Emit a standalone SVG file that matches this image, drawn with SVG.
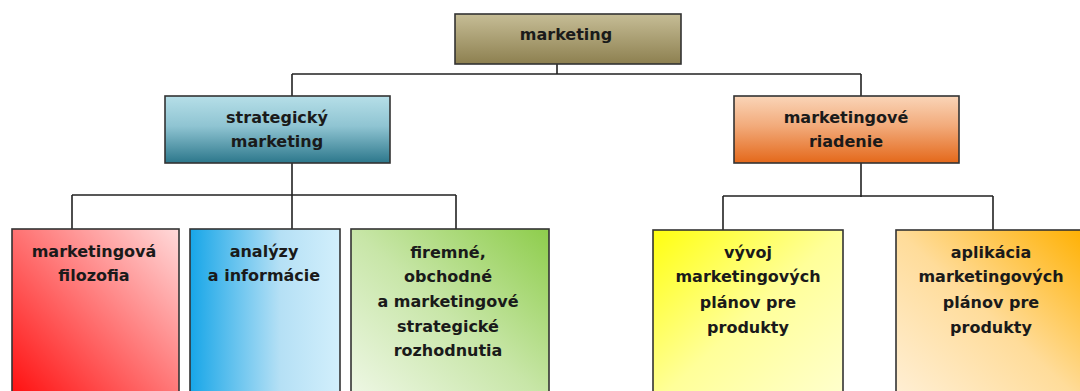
<svg xmlns="http://www.w3.org/2000/svg" width="1080" height="391" viewBox="0 0 1080 391">
<style>
.box{stroke:#333;stroke-width:1.6}
.t{font-family:"DejaVu Sans",Verdana,sans-serif;font-weight:bold;font-size:16px;fill:#1a1a1a;text-anchor:middle}
.c{fill:none;stroke:#222;stroke-width:1.6}
</style>
<defs>
<linearGradient id="gTop" x1="0" y1="0" x2="0" y2="1"><stop offset="0" stop-color="#c6bd96"/><stop offset="1" stop-color="#8d8050"/></linearGradient>
<linearGradient id="gStrat" x1="0" y1="0" x2="0" y2="1"><stop offset="0" stop-color="#b6dfe8"/><stop offset="0.45" stop-color="#8fc4d2"/><stop offset="1" stop-color="#2c778b"/></linearGradient>
<linearGradient id="gRiad" x1="0" y1="0" x2="0" y2="1"><stop offset="0" stop-color="#fad5b8"/><stop offset="0.45" stop-color="#f2aa7a"/><stop offset="1" stop-color="#e4681a"/></linearGradient>
<linearGradient id="gRed" x1="0" y1="1" x2="1" y2="0"><stop offset="0" stop-color="#ff0a0a"/><stop offset="1" stop-color="#ffdada"/></linearGradient>
<linearGradient id="gBlue" x1="0" y1="0" x2="1" y2="0"><stop offset="0" stop-color="#17a6e8"/><stop offset="0.6" stop-color="#b5e0f5"/><stop offset="1" stop-color="#d2effc"/></linearGradient>
<linearGradient id="gGreen" x1="0" y1="1" x2="1" y2="0"><stop offset="0" stop-color="#f0f8e8"/><stop offset="0.5" stop-color="#c8e6a8"/><stop offset="1" stop-color="#8ecd4c"/></linearGradient>
<linearGradient id="gYel" x1="0" y1="0" x2="1" y2="1"><stop offset="0" stop-color="#ffff10"/><stop offset="0.5" stop-color="#ffff99"/><stop offset="1" stop-color="#ffffd0"/></linearGradient>
<linearGradient id="gOr" x1="1" y1="0" x2="0" y2="1"><stop offset="0" stop-color="#ffb000"/><stop offset="0.5" stop-color="#ffdc9a"/><stop offset="1" stop-color="#fff0d8"/></linearGradient>
</defs>
<g id="connectors">
<path class="c" d="M557,64 V74 M292,74 H861 M292,74 V96 M861,74 V96"/>
<path class="c" d="M292,163 V229 M72,195 H456 M72,195 V229 M456,195 V229"/>
<path class="c" d="M861,163 V197 M723,196 H993 M723,196 V230 M993,196 V230"/>
</g>
<g id="n-marketing">
<rect class="box" x="455" y="14" width="226" height="50" fill="url(#gTop)"/>
<text class="t" x="566" y="40">marketing</text>
</g>
<g id="n-strategicky">
<rect class="box" x="165" y="96" width="225" height="67" fill="url(#gStrat)"/>
<text class="t" x="277" y="123">strategický</text>
<text class="t" x="277" y="147">marketing</text>
</g>
<g id="n-riadenie">
<rect class="box" x="734" y="96" width="225" height="67" fill="url(#gRiad)"/>
<text class="t" x="846" y="123">marketingové</text>
<text class="t" x="846" y="147">riadenie</text>
</g>
<g id="n-filozofia">
<rect class="box" x="12" y="229" width="167" height="175" fill="url(#gRed)"/>
<text class="t" x="94" y="257">marketingová</text>
<text class="t" x="94" y="281">filozofia</text>
</g>
<g id="n-analyzy">
<rect class="box" x="190" y="229" width="150" height="175" fill="url(#gBlue)"/>
<text class="t" x="264" y="257">analýzy</text>
<text class="t" x="264" y="281">a informácie</text>
</g>
<g id="n-rozhodnutia">
<rect class="box" x="351" y="229" width="198" height="175" fill="url(#gGreen)"/>
<text class="t" x="448" y="258">firemné,</text>
<text class="t" x="448" y="282">obchodné</text>
<text class="t" x="448" y="307">a marketingové</text>
<text class="t" x="448" y="332">strategické</text>
<text class="t" x="448" y="356">rozhodnutia</text>
</g>
<g id="n-vyvoj">
<rect class="box" x="653" y="230" width="190" height="175" fill="url(#gYel)"/>
<text class="t" x="748" y="258">vývoj</text>
<text class="t" x="748" y="282">marketingových</text>
<text class="t" x="748" y="308">plánov pre</text>
<text class="t" x="748" y="333">produkty</text>
</g>
<g id="n-aplikacia">
<rect class="box" x="896" y="230" width="190" height="175" fill="url(#gOr)"/>
<text class="t" x="991" y="258">aplikácia</text>
<text class="t" x="991" y="282">marketingových</text>
<text class="t" x="991" y="308">plánov pre</text>
<text class="t" x="991" y="333">produkty</text>
</g>
</svg>
